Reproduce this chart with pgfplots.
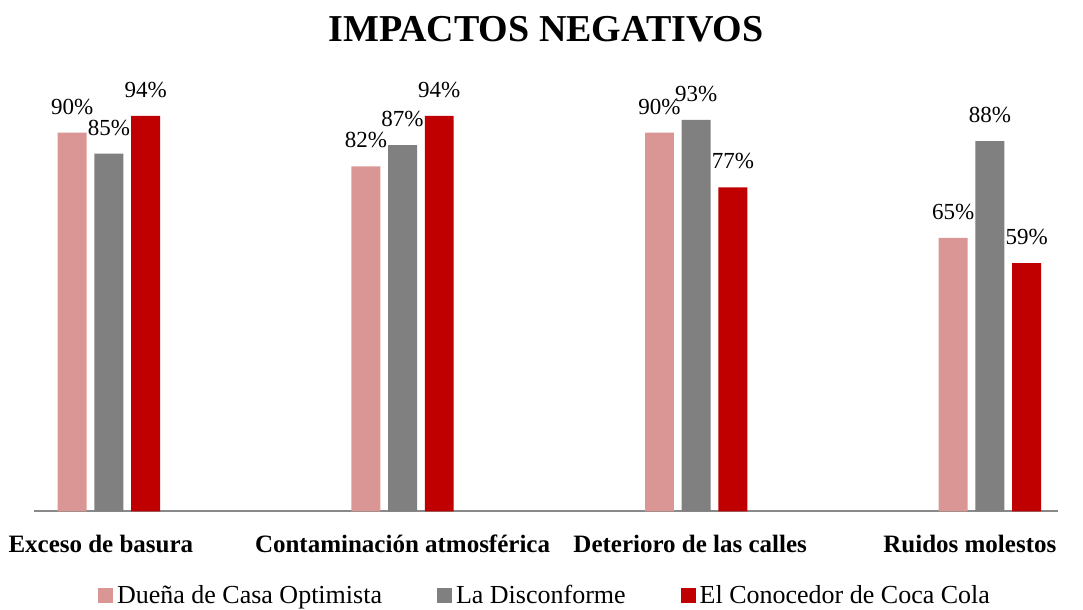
\documentclass[border=0pt]{standalone}
\usepackage{pgfplots}
\pgfplotsset{compat=1.18}
\usepackage{fontspec}
\setmainfont{Liberation Serif}
\definecolor{cPink}{RGB}{217,150,148}
\definecolor{cGray}{RGB}{128,128,128}
\definecolor{cRed}{RGB}{192,0,0}
\definecolor{axgray}{RGB}{137,137,137}
\begin{document}
\begin{tikzpicture}
\path[use as bounding box] (0,0) rectangle (541.5pt,305pt);
\begin{axis}[
  at={(17pt,49.25pt)}, anchor=south west,
  scale only axis, width=512pt, height=210.5pt,
  xmin=-0.255, xmax=3.232, ymin=0, ymax=100,
  ybar, bar width=0.0987,
  hide y axis,
  axis x line*=bottom,
  x axis line style={draw=axgray, line width=1pt},
  xtick={0,1,2,3},
  major tick length=0pt,
  xticklabels={{Exceso de basura\hspace*{8pt}},{Contaminación atmosférica},{Deterioro de las calles\hspace*{6pt}},{Ruidos molestos\hspace*{20pt}}},
  xticklabel style={font=\bfseries\fontsize{12.5}{14}\selectfont, anchor=base, yshift=-20.75pt, inner sep=0pt},
  title={IMPACTOS NEGATIVOS},
  title style={font=\bfseries\fontsize{19}{21}\selectfont, at={(0.5,1)}, anchor=center, yshift=24.5pt},
  /pgf/number format/assume math mode=true,
  nodes near coords={\pgfmathprintnumber{\pgfplotspointmeta}\%},
  nodes near coords style={font=\fontsize{11.5}{13}\selectfont, text=black, yshift=5.5pt},
  clip=false,
  legend columns=3,
  legend style={at={(0.5,0)}, anchor=center, yshift=-42.25pt, draw=none, fill=none,
    font=\fontsize{13}{15}\selectfont,
    /tikz/every even column/.append style={column sep=25.5pt}},
  legend image code/.code={\fill[#1] (0pt,-3.5pt) rectangle (7.5pt,4pt);},
]
\addplot[fill=cPink, draw=none, bar shift=-0.125] coordinates {(0,90) (1,82) (2,90) (3,65)};
\addplot[fill=cGray, draw=none, bar shift=0] coordinates {(0,85) (1,87) (2,93) (3,88)};
\addplot[fill=cRed, draw=none, bar shift=0.125] coordinates {(0,94) (1,94) (2,77) (3,59)};
\legend{Dueña de Casa Optimista, La Disconforme, El Conocedor de Coca Cola}
\end{axis}
\end{tikzpicture}
\end{document}
